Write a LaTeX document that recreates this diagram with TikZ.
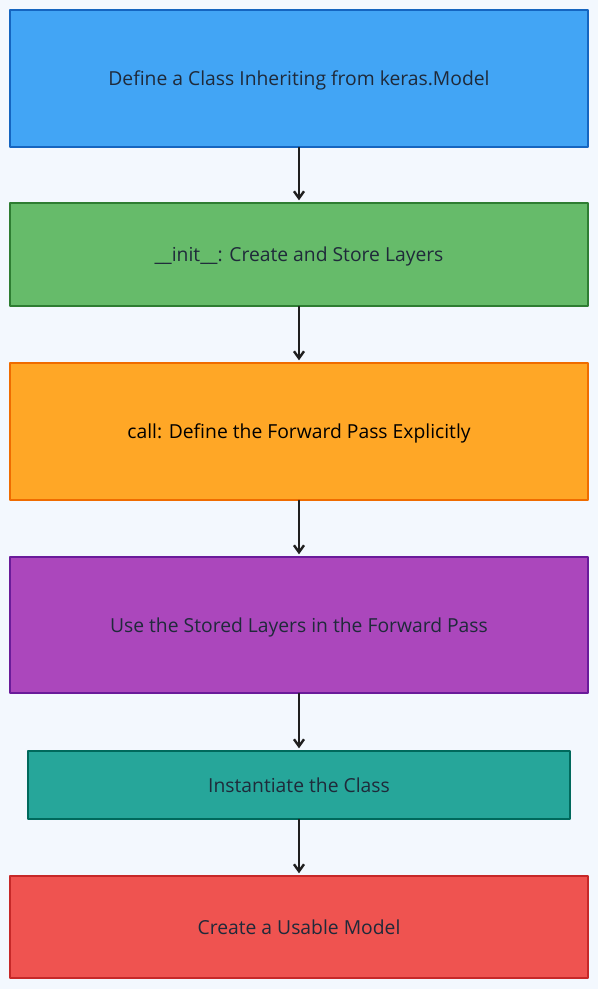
\documentclass[tikz,border=0pt]{standalone}
\usepackage{fontspec}
\setmainfont{Open Sans}
\usetikzlibrary{arrows.meta}
\definecolor{bgc}{HTML}{F3F8FE}
\definecolor{txt}{HTML}{1F2A3A}
\definecolor{bluef}{HTML}{42A5F5}\definecolor{blued}{HTML}{1565C0}
\definecolor{greenf}{HTML}{66BB6A}\definecolor{greend}{HTML}{2E7D32}
\definecolor{orangef}{HTML}{FFA726}\definecolor{oranged}{HTML}{EF6C00}
\definecolor{purplef}{HTML}{AB47BC}\definecolor{purpled}{HTML}{6A1B9A}
\definecolor{tealf}{HTML}{26A69A}\definecolor{teald}{HTML}{00695C}
\definecolor{redf}{HTML}{EF5350}\definecolor{redd}{HTML}{C62828}
\begin{document}
\begin{tikzpicture}[x=1pt,y=-1pt,line join=round,line cap=round,>={Straight Barb[length=7pt,width=10pt]}]
		\tikzset{stage/.style={draw,line width=1.4pt,minimum width=578pt,text=txt,font=\fontsize{19.3}{22}\selectfont,inner sep=0pt,text depth=0pt},
		flow/.style={->,line width=2.4pt,black!88,shorten >=2pt}}
		\fill[bgc] (0,0) rectangle (598,989);
		\useasboundingbox (0,0) rectangle (598,989);
		\node[stage,fill=bluef,draw=blued,minimum height=137pt] (s1) at (299,78.5) {Define a Class Inheriting from keras.Model};
		\node[stage,fill=greenf,draw=greend,minimum height=103pt] (s2) at (299,254.5) {\_\_init\_\_: Create and Store Layers};
		\node[stage,fill=orangef,draw=oranged,minimum height=137pt,text=black] (s3) at (299,431.5) {call: Define the Forward Pass Explicitly};
		\node[stage,fill=purplef,draw=purpled,minimum height=136pt] (s4) at (299,625) {Use the Stored Layers in the Forward Pass};
		\node[stage,fill=tealf,draw=teald,minimum height=68pt,minimum width=542pt] (s5) at (299,785) {Instantiate the Class};
		\node[stage,fill=redf,draw=redd,minimum height=102pt] (s6) at (299,927) {Create a Usable Model};
		\foreach \a/\b in {s1/s2,s2/s3,s3/s4,s4/s5,s5/s6}
		\draw[flow] (\a.south) -- (\b.north);
		\end{tikzpicture}
\end{document}
